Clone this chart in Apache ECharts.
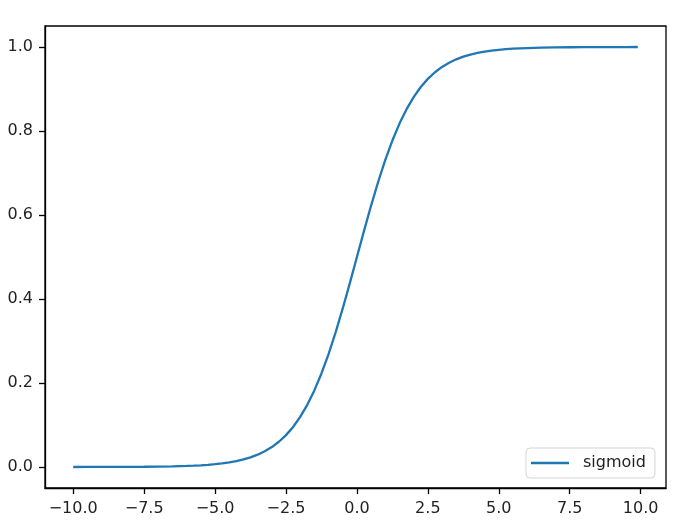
<!DOCTYPE html>
<html>
<head>
<meta charset="utf-8">
<script src="https://cdn.jsdelivr.net/npm/echarts@6/dist/echarts.min.js"></script>
<style>
html,body{margin:0;padding:0;background:#fff;}
#chart{width:676px;height:523px;}
</style>
</head>
<body>
<div id="chart"></div>
<script>
// x positions sampled along the curve
var xValues = [-10, -9.5, -9, -8.5, -8, -7.5, -7, -6.5, -6, -5.75, -5.5, -5.25, -5, -4.75, -4.5, -4.25, -4, -3.75, -3.5, -3.25, -3, -2.75, -2.5, -2.25, -2, -1.75, -1.5, -1.25, -1, -0.75, -0.5, -0.25, 0,
  0.25, 0.5, 0.75, 1, 1.25, 1.5, 1.75, 2, 2.25, 2.5, 2.75, 3, 3.25, 3.5, 3.75, 4, 4.25, 4.5, 4.75, 5, 5.25, 5.5, 5.75, 6, 6.5, 7, 7.5, 8, 8.5, 9, 9.5, 9.9];
// sigmoid values
var sigmoidValues = [0.00005, 0.000075, 0.00012, 0.0002, 0.00034, 0.00055, 0.0009, 0.0015, 0.0025, 0.0032, 0.0041, 0.0052, 0.0067, 0.0086, 0.011, 0.0141, 0.018, 0.023, 0.0293, 0.0373, 0.0474, 0.0601, 0.0759, 0.0953, 0.1192, 0.148, 0.1824, 0.2227, 0.2689, 0.3208, 0.3775, 0.4378, 0.5,
  0.5622, 0.6225, 0.6792, 0.7311, 0.7773, 0.8176, 0.852, 0.8808, 0.9047, 0.9241, 0.9399, 0.9526, 0.9627, 0.9707, 0.977, 0.982, 0.9859, 0.989, 0.9914, 0.9933, 0.9948, 0.9959, 0.9968, 0.9975, 0.9985, 0.9991, 0.9994, 0.9997, 0.9998, 0.9999, 0.9999, 0.99995];
var xTicks = [-10, -7.5, -5, -2.5, 0, 2.5, 5, 7.5, 10];
var yTicks = [0, 0.2, 0.4, 0.6, 0.8, 1.0];
var seriesName = 'sigmoid';

var data = xValues.map(function (x, i) { return [x, sigmoidValues[i]]; });
function fmt(v) {
  var s = v.toFixed(1);
  return s.charAt(0) === '-' ? '\u2212' + s.slice(1) : s;
}
var font = 'DejaVu Sans';
var chart = echarts.init(document.getElementById('chart'), null, {renderer: 'canvas'});
chart.setOption({
  animation: false,
  backgroundColor: '#fff',
  textStyle: {fontFamily: font},
  grid: {left: 45, right: 10, top: 26, bottom: 35, show: true, borderColor: '#000', borderWidth: 1.3, containLabel: false},
  xAxis: {
    type: 'value', min: -10.995, max: 10.895,
    splitLine: {show: false},
    axisLine: {show: true, onZero: false, lineStyle: {color: '#000', width: 1.3}},
    axisTick: {show: true, length: 6, customValues: xTicks, lineStyle: {color: '#000', width: 1.3}},
    axisLabel: {customValues: xTicks, margin: 13, color: '#222', fontSize: 16, fontFamily: font, formatter: fmt}
  },
  yAxis: {
    type: 'value', min: -0.05, max: 1.05,
    splitLine: {show: false},
    axisLine: {show: true, onZero: false, lineStyle: {color: '#000', width: 1.3}},
    axisTick: {show: true, length: 6, customValues: yTicks, lineStyle: {color: '#000', width: 1.3}},
    axisLabel: {customValues: yTicks, margin: 12, color: '#222', fontSize: 16, fontFamily: font, formatter: fmt}
  },
  legend: {
    show: true,
    left: 526, top: 448,
    orient: 'vertical',
    backgroundColor: 'rgba(255,255,255,0.8)',
    borderColor: '#d5d5d5', borderWidth: 1, borderRadius: 4,
    padding: [7, 9, 7, 5],
    itemWidth: 38, itemHeight: 2.4,
    icon: 'rect',
    textStyle: {color: '#222', fontSize: 16, fontFamily: font, padding: [0, 0, 0, 9]},
    data: [seriesName]
  },
  series: [{
    name: seriesName,
    type: 'line',
    data: data,
    showSymbol: false,
    symbol: 'none',
    smooth: false,
    color: '#1f77b4',
    lineStyle: {color: '#1f77b4', width: 2.3}
  }]
});
</script>
</body>
</html>
